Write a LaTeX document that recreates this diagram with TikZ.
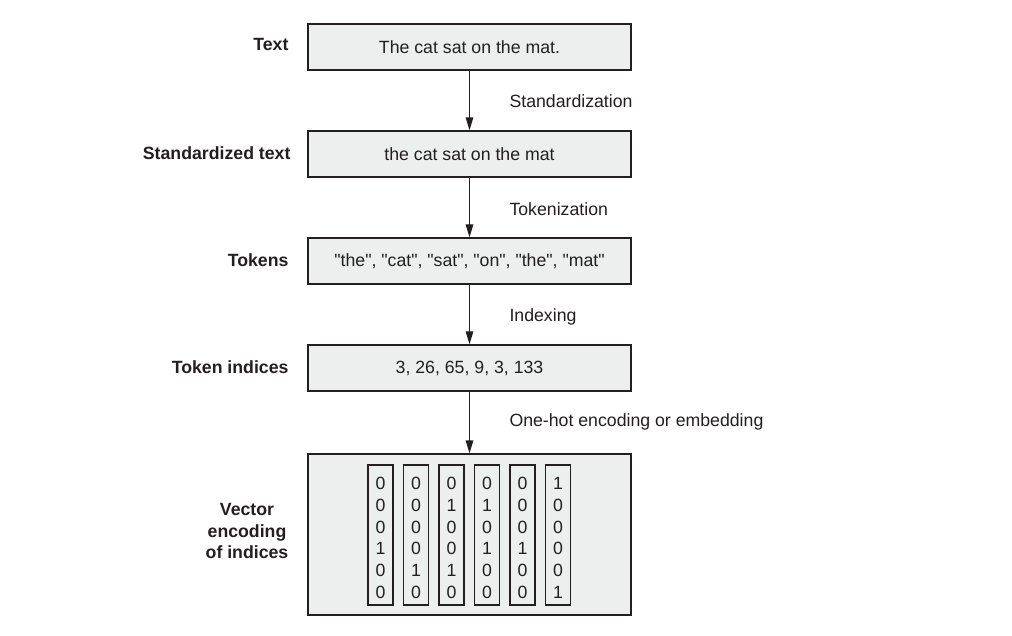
\documentclass[tikz,border=0pt]{standalone}
\usepackage{fontspec}
\setmainfont{Liberation Sans}
\definecolor{boxfill}{RGB}{237,238,238}
\definecolor{ink}{RGB}{35,31,32}
\usetikzlibrary{arrows.meta}
\newcommand{\qt}[1]{\textquotedbl#1\textquotedbl}

\begin{document}
\begin{tikzpicture}[x=1pt,y=-1pt,
    every node/.style={text=ink,font=\fontsize{17.7}{21.7}\selectfont},
    stage/.style={draw=ink,line width=1.2pt,fill=boxfill,minimum width=323pt,minimum height=46pt,inner sep=0pt},
    side/.style={anchor=east,font=\fontsize{17.7}{21.7}\selectfont\bfseries,align=right},
    step label/.style={anchor=west},
    flow/.style={draw=ink,line width=1.2pt,-{Triangle[length=13pt,width=7.5pt]}},
    column/.style={draw=ink,line width=1.1pt,minimum width=25pt,minimum height=140pt,inner sep=0pt}]
  \useasboundingbox (0,0) rectangle (1012,636);
  % stages of the pipeline
  \node[stage] (text) at (469.5,47) {The cat sat on the mat.};
  \node[stage] (std) at (469.5,154) {the cat sat on the mat};
  \node[stage] (tok) at (469.5,261) {\qt{the}, \qt{cat}, \qt{sat}, \qt{on}, \qt{the}, \qt{mat}};
  \node[stage] (idx) at (469.5,368) {3, 26, 65, 9, 3, 133};
  \node[stage,minimum height=161pt] (vec) at (469.5,534.5) {};
  % names on the left
  \node[side] (textname) at (292,45) {Text};
  \node[side] (stdname) at (294,153) {Standardized text};
  \node[side] (tokname) at (292,260) {Tokens};
  \node[side] (idxname) at (292,367) {Token indices};
  \node[side,align=center,anchor=center] (vecname) at (247,531) {Vector\\encoding\\of indices};
  % steps between stages
  \draw[flow] (text) -- (std);
  \draw[flow] (std) -- (tok);
  \draw[flow] (tok) -- (idx);
  \draw[flow] (idx) -- (vec);
  \node[step label] (stdstep) at (506,101) {Standardization};
  \node[step label] (tokstep) at (506,209) {Tokenization};
  \node[step label] (idxstep) at (506,317) {Indexing};
  \node[step label] (vecstep) at (506,422) {One-hot encoding or embedding};
  % one-hot columns, one per token
  \foreach \bits [count=\i] in {{0,0,0,1,0,0},{0,0,0,0,1,0},{0,1,0,0,1,0},{0,1,0,1,0,0},{0,0,0,1,0,0},{1,0,0,0,0,1}} {
    \node[column] (col\i) at ({380.5+35.5*(\i-1)},535) {};
    \foreach \b [count=\j] in \bits
      \node[inner sep=0pt] (bit\i\j) at ({380.5+35.5*(\i-1)},{483.5+21.8*(\j-1)}) {\b};
  }
\end{tikzpicture}
\end{document}
